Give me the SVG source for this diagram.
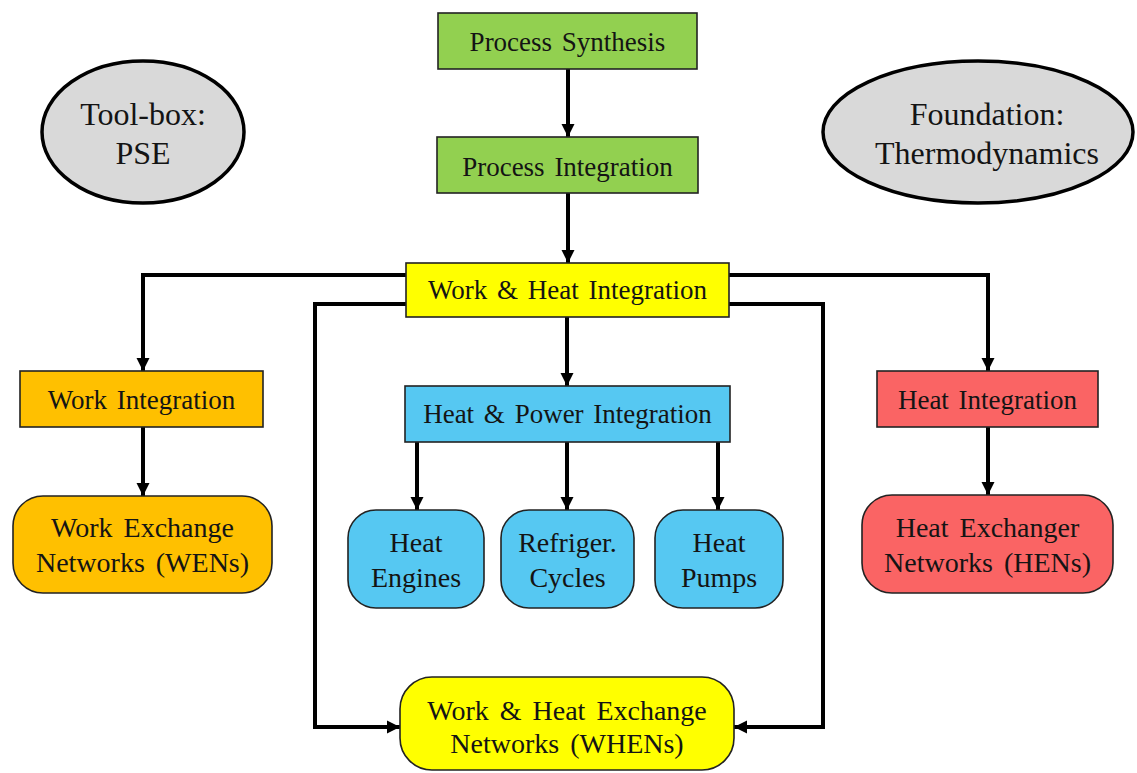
<svg xmlns="http://www.w3.org/2000/svg" width="1137" height="773" viewBox="0 0 1137 773">
<style>
text{font-family:"Liberation Serif","Times New Roman",serif;font-size:27px;fill:#141414;text-anchor:middle;word-spacing:3px}
.big{font-size:32px;word-spacing:0}
.rt{font-size:28px;word-spacing:4px}
.box{stroke:#222;stroke-width:1.6}
.ell{fill:#d9d9d9;stroke:#000;stroke-width:3.5}
.green{fill:#92d050}.yellow{fill:#ffff00}.orange{fill:#ffc000}.blue{fill:#56c8f2}.red{fill:#fa6464}
.con{fill:none;stroke:#000;stroke-width:4;marker-end:url(#ah)}
</style>
<defs>
<marker id="ah" markerUnits="userSpaceOnUse" markerWidth="14" markerHeight="14" refX="13" refY="7" orient="auto">
<path d="M0,0.5 L13,7 L0,13.5 Z" fill="#000"/>
</marker>
</defs>
<rect width="1137" height="773" fill="#fff"/>
<g id="connectors">
<path class="con" d="M568,69 V137"/>
<path class="con" d="M568,193 V263"/>
<path class="con" d="M406,275 H143 V371"/>
<path class="con" d="M729,275 H988 V371"/>
<path class="con" d="M406,304 H315 V727 H400"/>
<path class="con" d="M729,304 H823 V727 H734"/>
<path class="con" d="M567,317 V386"/>
<path class="con" d="M417,442 V510"/>
<path class="con" d="M567,442 V510"/>
<path class="con" d="M718,442 V510"/>
<path class="con" d="M143,427 V496"/>
<path class="con" d="M988,427 V495"/>
</g>
<g id="toolbox"><ellipse class="ell" cx="143" cy="132" rx="101" ry="71"/><text class="big" x="143" y="125">Tool-box:</text><text class="big" x="143" y="164">PSE</text></g>
<g id="foundation"><ellipse class="ell" cx="978" cy="132" rx="155" ry="71"/><text class="big" x="987" y="125">Foundation:</text><text class="big" x="987" y="164">Thermodynamics</text></g>
<g id="process-synthesis"><rect class="box green" x="438" y="13" width="259" height="56"/><text x="567.5" y="51">Process Synthesis</text></g>
<g id="process-integration"><rect class="box green" x="437" y="137" width="261" height="56"/><text x="567.5" y="176">Process Integration</text></g>
<g id="work-heat-integration"><rect class="box yellow" x="406" y="263" width="323" height="54"/><text x="567.5" y="299">Work &amp; Heat Integration</text></g>
<g id="heat-power-integration"><rect class="box blue" x="405" y="386" width="325" height="56"/><text x="567.5" y="423">Heat &amp; Power Integration</text></g>
<g id="work-integration"><rect class="box orange" x="20" y="371" width="243" height="56"/><text x="141.5" y="409">Work Integration</text></g>
<g id="heat-integration"><rect class="box red" x="877" y="371" width="221" height="56"/><text x="987.5" y="409">Heat Integration</text></g>
<g id="wens"><rect class="box orange" x="13" y="496" width="259" height="97" rx="30"/><text class="rt" x="142.5" y="537">Work Exchange</text><text class="rt" x="142.5" y="572">Networks (WENs)</text></g>
<g id="hens"><rect class="box red" x="862" y="495" width="251" height="98" rx="30"/><text class="rt" x="987.5" y="537">Heat Exchanger</text><text class="rt" x="987.5" y="572">Networks (HENs)</text></g>
<g id="heat-engines"><rect class="box blue" x="348" y="510" width="136" height="98" rx="28"/><text class="rt" x="416" y="552">Heat</text><text class="rt" x="416" y="587">Engines</text></g>
<g id="refriger-cycles"><rect class="box blue" x="501" y="510" width="133" height="98" rx="28"/><text class="rt" x="567.5" y="552">Refriger.</text><text class="rt" x="567.5" y="587">Cycles</text></g>
<g id="heat-pumps"><rect class="box blue" x="655" y="510" width="128" height="98" rx="28"/><text class="rt" x="719" y="552">Heat</text><text class="rt" x="719" y="587">Pumps</text></g>
<g id="whens"><rect class="box yellow" x="400" y="677" width="334" height="93" rx="32"/><text class="rt" x="567" y="720">Work &amp; Heat Exchange</text><text class="rt" x="567" y="753">Networks (WHENs)</text></g>
</svg>
